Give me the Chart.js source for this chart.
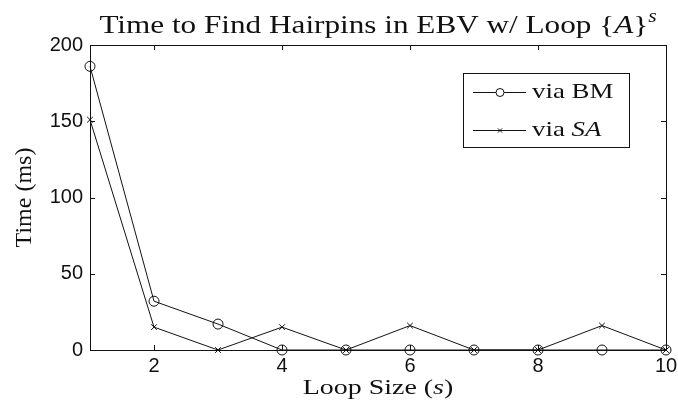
<!DOCTYPE html>
<html><head><meta charset="utf-8">
<script src="https://cdn.jsdelivr.net/npm/chart.js@4"></script>
<style>html,body{margin:0;padding:0;background:#fff}#wrap{width:678px;height:403px}</style>
</head><body><div id="wrap"><canvas id="c" width="678" height="403"></canvas></div>
<script>
const loopSizes = [1, 2, 3, 4, 5, 6, 7, 8, 9, 10];
const viaBM = [186, 32, 17, 0, 0, 0, 0, 0, 0, 0];
const viaSA = [151, 15, 0, 15, 0, 16, 0, 0, 16, 0];
const xTicks = [2, 4, 6, 8, 10];
const yTicks = [0, 50, 100, 150, 200];

const INK = '#111';
const SERIF = '"Liberation Serif", "DejaVu Serif", serif';

// draw a run of differently styled text pieces, horizontally stretched by sx
function drawPieces(ctx, pieces, x0, y, sx, align) {
  let total = 0;
  pieces.forEach(p => { ctx.font = p.font; total += ctx.measureText(p.t).width; });
  ctx.save();
  ctx.translate(x0, y);
  ctx.scale(sx, 1);
  let x = align === 'left' ? 0 : -total / 2;
  pieces.forEach(p => {
    ctx.font = p.font;
    ctx.fillText(p.t, x, p.dy || 0);
    x += ctx.measureText(p.t).width;
  });
  ctx.restore();
}

const framePlugin = {
  id: 'frame',
  afterDraw(chart) {
    const ctx = chart.ctx, a = chart.chartArea;
    const xs = chart.scales.x, ys = chart.scales.y;
    ctx.save();
    ctx.strokeStyle = INK; ctx.lineWidth = 1;
    ctx.strokeRect(Math.round(a.left) + 0.5, Math.round(a.top) + 0.5, Math.round(a.right - a.left), Math.round(a.bottom - a.top));
    const L = 5;
    ctx.beginPath();
    xTicks.forEach(v => {
      const px = Math.round(xs.getPixelForValue(v)) + 0.5;
      ctx.moveTo(px, a.bottom); ctx.lineTo(px, a.bottom - L);
      ctx.moveTo(px, a.top); ctx.lineTo(px, a.top + L);
    });
    yTicks.forEach(v => {
      const py = Math.round(ys.getPixelForValue(v)) + 0.5;
      ctx.moveTo(a.left, py); ctx.lineTo(a.left + L, py);
      ctx.moveTo(a.right, py); ctx.lineTo(a.right - L, py);
    });
    ctx.stroke();

    ctx.fillStyle = INK;
    ctx.textBaseline = 'alphabetic';
    const cx = (a.left + a.right) / 2;
    // title
    drawPieces(ctx, [
      {t: 'Time to Find Hairpins in EBV w/ Loop {', font: '26px ' + SERIF},
      {t: 'A', font: 'italic 26px ' + SERIF},
      {t: '}', font: '26px ' + SERIF},
      {t: 's', font: 'italic 18px ' + SERIF, dy: -11}
    ], cx, 33, 1.2);

    // x axis title
    drawPieces(ctx, [
      {t: 'Loop Size (', font: '22px ' + SERIF},
      {t: 's', font: 'italic 22px ' + SERIF},
      {t: ')', font: '22px ' + SERIF}
    ], cx, 394, 1.27);

    // y axis title
    ctx.save();
    ctx.translate(31, (a.top + a.bottom) / 2);
    ctx.rotate(-Math.PI / 2);
    drawPieces(ctx, [{t: 'Time (ms)', font: '24px ' + SERIF}], 0, 0, 1);
    ctx.restore();

    // legend
    const bx = 463, by = 73, bw = 166, bh = 74;
    ctx.fillStyle = '#fff';
    ctx.fillRect(bx, by, bw, bh);
    ctx.strokeStyle = INK;
    ctx.strokeRect(bx + 0.5, by + 0.5, bw, bh);
    const rows = [
      {y: 92, ds: 0, pieces: [{t: 'via BM', font: '21px ' + SERIF}]},
      {y: 130, ds: 1, pieces: [{t: 'via ', font: '21px ' + SERIF}, {t: 'SA', font: 'italic 21px ' + SERIF}]}
    ];
    rows.forEach(r => {
      const ds = chart.data.datasets[r.ds];
      ctx.strokeStyle = INK; ctx.lineWidth = 1;
      ctx.beginPath(); ctx.moveTo(473, r.y + 0.5); ctx.lineTo(526, r.y + 0.5); ctx.stroke();
      Chart.helpers.drawPoint(ctx, {pointStyle: ds.pointStyle, radius: ds.pointStyle === 'circle' ? 4 : 3, borderWidth: 1, rotation: 0}, 500, r.y + 0.5);
      ctx.fillStyle = INK;
      ctx.textBaseline = 'middle';
      drawPieces(ctx, r.pieces, 532, r.y, 1.28, 'left');
    });
    ctx.restore();
  }
};

new Chart(document.getElementById('c'), {
  type: 'line',
  data: {
    labels: loopSizes,
    datasets: [
      {label: 'via BM', data: loopSizes.map((x, i) => ({x, y: viaBM[i]})), borderColor: INK, borderWidth: 1,
       pointStyle: 'circle', pointRadius: 5, pointBorderColor: INK, pointBackgroundColor: 'rgba(0,0,0,0)', pointBorderWidth: 1, tension: 0, clip: false},
      {label: 'via SA', data: loopSizes.map((x, i) => ({x, y: viaSA[i]})), borderColor: INK, borderWidth: 1,
       pointStyle: 'crossRot', pointRadius: 4, pointBorderColor: INK, pointBorderWidth: 1, tension: 0, clip: false}
    ]
  },
  options: {
    responsive: false, animation: false, devicePixelRatio: 1,
    layout: {padding: {left: 0, right: 12, top: 45, bottom: 0}},
    plugins: {legend: {display: false}, title: {display: false}, tooltip: {enabled: false}},
    scales: {
      x: {type: 'linear', min: 1, max: 10,
          afterBuildTicks: s => { s.ticks = xTicks.map(v => ({value: v})); },
          afterFit: s => { s.height = 53; },
          grid: {display: false}, border: {display: false},
          ticks: {color: INK, font: {family: '"Liberation Sans", Arial, sans-serif', size: 20}, padding: -4, maxRotation: 0}},
      y: {min: 0, max: 200,
          afterBuildTicks: s => { s.ticks = yTicks.map(v => ({value: v})); },
          afterFit: s => { s.width = 90; },
          grid: {display: false}, border: {display: false},
          ticks: {color: INK, font: {family: '"Liberation Sans", Arial, sans-serif', size: 20}, padding: -1}}
    }
  },
  plugins: [framePlugin]
});
</script></body></html>
